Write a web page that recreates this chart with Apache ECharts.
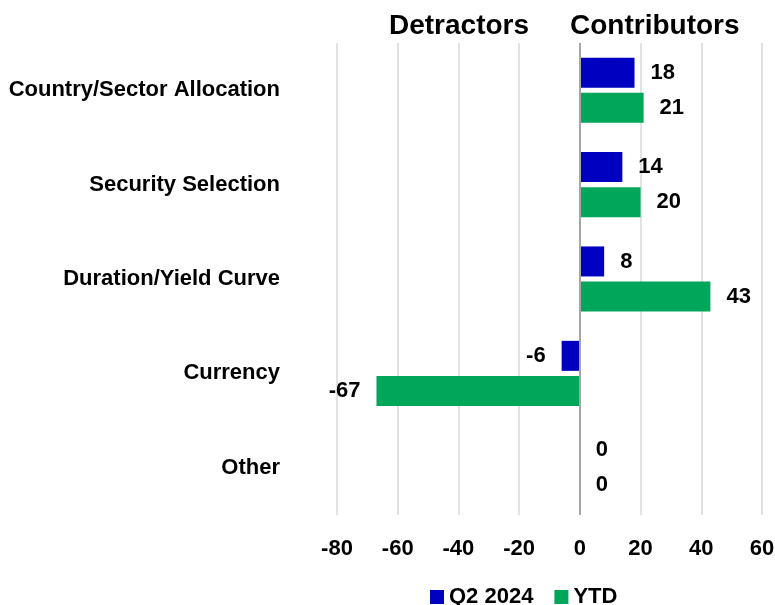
<!DOCTYPE html>
<html>
<head>
<meta charset="utf-8">
<script src="https://cdn.jsdelivr.net/npm/echarts@6/dist/echarts.min.js"></script>
<style>
  html, body { margin: 0; padding: 0; background: #fff; }
  #chart { width: 775px; height: 605px; }
</style>
</head>
<body>
<div id="chart"></div>
<script>
const categories = ['Country/Sector Allocation', 'Security Selection', 'Duration/Yield Curve', 'Currency', 'Other'];
const q2Values = [18, 14, 8, -6, 0];
const ytdValues = [21, 20, 43, -67, 0];
const xTicks = { min: -80, max: 60, interval: 20 };

const font = "'Liberation Sans', Arial, sans-serif";

// labels go on the outer end of each bar
function withLabels(values) {
  return values.map(function (v) {
    return { value: v, label: { position: v < 0 ? 'left' : 'right' } };
  });
}

const labelStyle = {
  show: true,
  distance: 16,
  fontFamily: font,
  fontWeight: 'bold',
  fontSize: 22,
  padding: [4, 0, 0, 0],
  color: '#000'
};

const chart = echarts.init(document.getElementById('chart'));
chart.setOption({
  animation: false,
  grid: { left: 337, right: 13, top: 43, bottom: 90, containLabel: false, outerBoundsMode: 'none' },
  graphic: [
    { type: 'text', left: 389, top: 12, style: { text: 'Detractors', font: 'bold 28px ' + font, fill: '#000' } },
    { type: 'text', left: 570, top: 12, style: { text: 'Contributors', font: 'bold 28px ' + font, fill: '#000' } }
  ],
  legend: {
    top: 581,
    left: 425,
    icon: 'rect',
    itemWidth: 14,
    itemHeight: 14,
    itemGap: 21,
    textStyle: { fontFamily: font, fontWeight: 'bold', fontSize: 22, color: '#000' },
    data: ['Q2 2024', 'YTD']
  },
  xAxis: {
    type: 'value',
    min: xTicks.min,
    max: xTicks.max,
    interval: xTicks.interval,
    axisLine: { show: false },
    axisTick: { show: false },
    splitLine: { show: true, lineStyle: { color: '#d9d9d9', width: 1.5 } },
    axisLabel: { margin: 23, fontFamily: font, fontWeight: 'bold', fontSize: 22, color: '#000' }
  },
  yAxis: {
    type: 'category',
    inverse: true,
    data: categories,
    axisLine: { show: false, onZero: false },
    axisTick: { show: false },
    axisLabel: { margin: 57, padding: [6, 0, 0, 0], fontFamily: font, fontWeight: 'bold', fontSize: 22, color: '#000' }
  },
  series: [
    {
      name: 'Q2 2024',
      type: 'bar',
      barWidth: 30,
      barGap: '17%',
      itemStyle: { color: '#0000c0' },
      label: labelStyle,
      data: withLabels(q2Values),
      markLine: {
        silent: true,
        symbol: 'none',
        label: { show: false },
        lineStyle: { color: '#a6a6a6', width: 2, type: 'solid' },
        data: [{ xAxis: 0 }]
      }
    },
    {
      name: 'YTD',
      type: 'bar',
      barWidth: 30,
      barGap: '17%',
      itemStyle: { color: '#00a65a' },
      label: labelStyle,
      data: withLabels(ytdValues)
    }
  ]
});
</script>
</body>
</html>
